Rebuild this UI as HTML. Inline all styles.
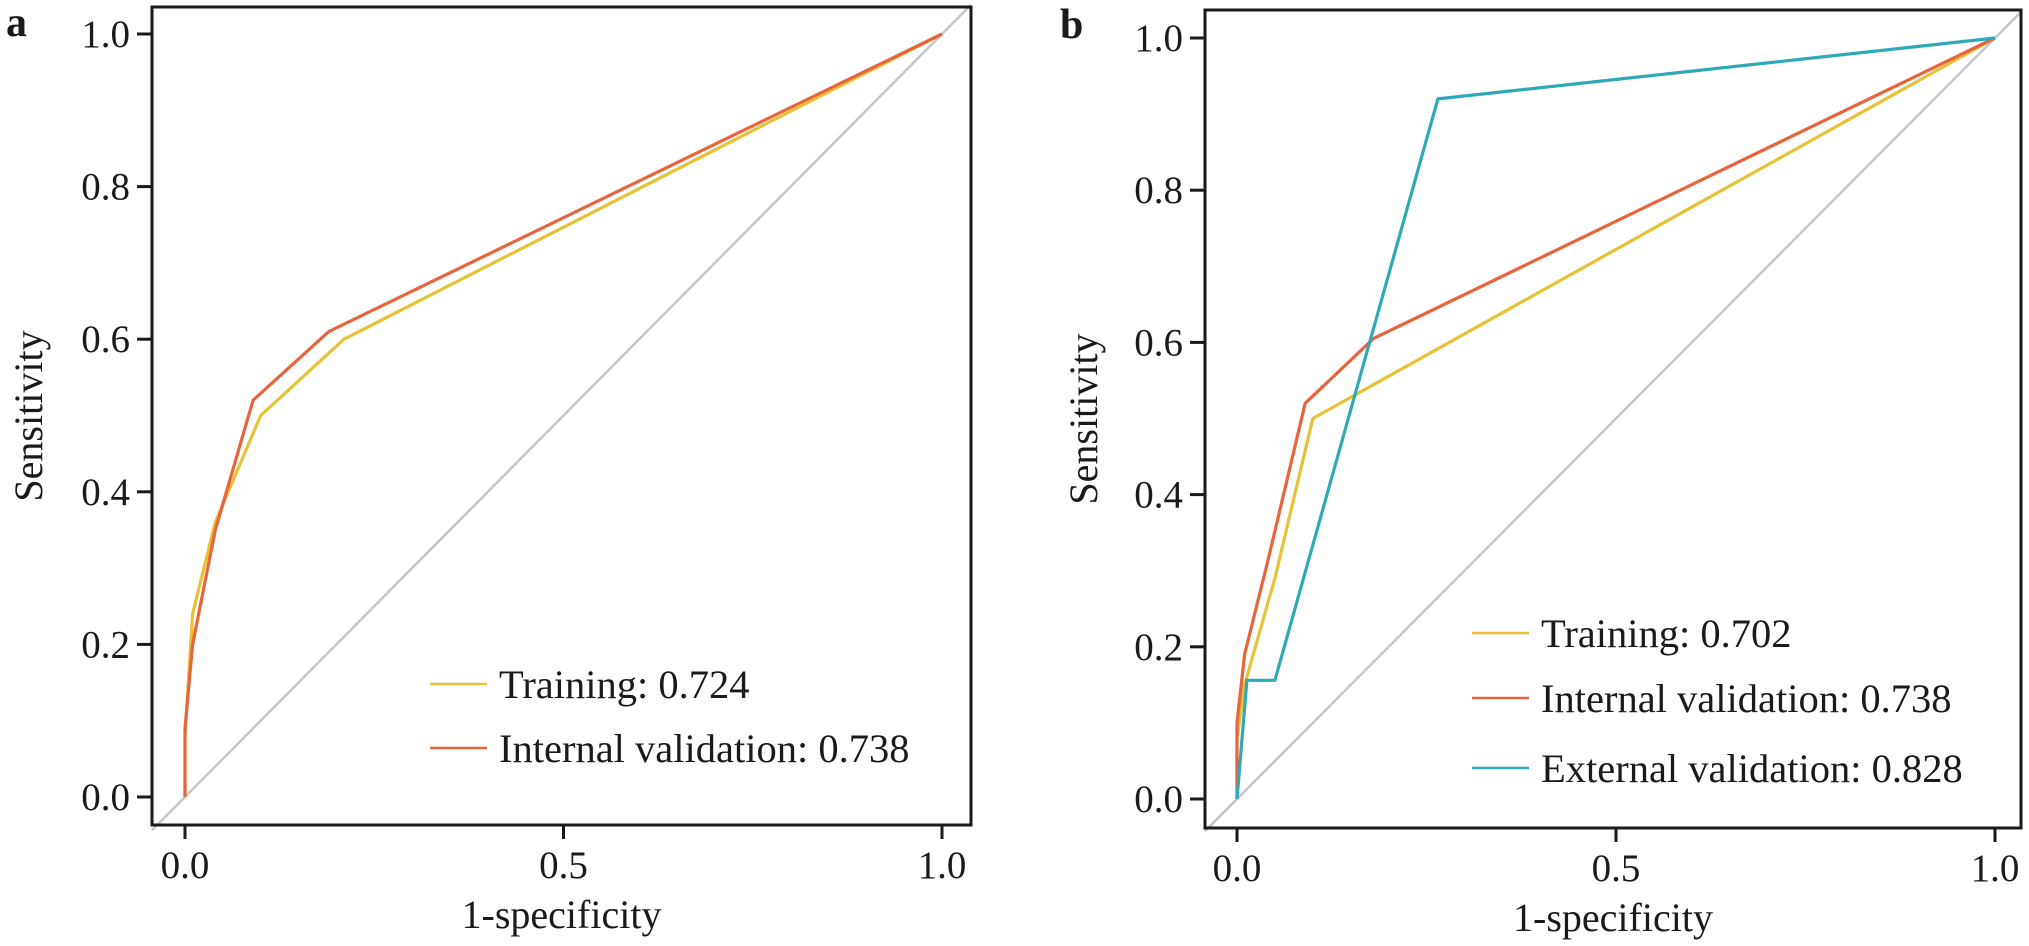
<!DOCTYPE html>
<html><head><meta charset="utf-8"><style>
html,body{margin:0;padding:0;background:#fff;}
svg{display:block;font-family:"Liberation Serif",serif;}
</style></head><body>
<svg id="chart" width="2029" height="946" viewBox="0 0 2029 946" xmlns="http://www.w3.org/2000/svg"></svg>
<script>
const xTicks = [0.0, 0.5, 1.0];
const xTickLabels = ["0.0", "0.5", "1.0"];
const yTicks = [0.0, 0.2, 0.4, 0.6, 0.8, 1.0];
const yTickLabels = ["0.0", "0.2", "0.4", "0.6", "0.8", "1.0"];

const aTrainFpr = [0, 0, 0.01, 0.04, 0.10, 0.21, 1];
const aTrainTpr = [0, 0.08, 0.24, 0.36, 0.50, 0.60, 1];
const aIntFpr = [0, 0, 0.01, 0.04, 0.09, 0.19, 1];
const aIntTpr = [0, 0.09, 0.20, 0.35, 0.52, 0.61, 1];

const bTrainFpr = [0, 0, 0.01, 0.05, 0.10, 1];
const bTrainTpr = [0, 0.08, 0.15, 0.29, 0.50, 1];
const bIntFpr = [0, 0, 0.01, 0.04, 0.09, 0.18, 1];
const bIntTpr = [0, 0.10, 0.19, 0.31, 0.52, 0.605, 1];
const bExtFpr = [0, 0.013, 0.05, 0.265, 1];
const bExtTpr = [0, 0.156, 0.156, 0.92, 1];

const aLegend = ["Training: 0.724", "Internal validation: 0.738"];
const bLegend = ["Training: 0.702", "Internal validation: 0.738", "External validation: 0.828"];

const C_TRAIN = "#e6c234", C_INT = "#e8643c", C_EXT = "#2fa9b8";
const NS = "http://www.w3.org/2000/svg";
const svg = document.getElementById("chart");
function mk(tag, attrs, parent){const e=document.createElementNS(NS,tag);for(const k in attrs)e.setAttribute(k,attrs[k]);(parent||svg).appendChild(e);return e;}

const panels = [
 {id:"a", box:[152,7,971,825], x0:185, x1:942, y0:797, y1:34, letterX:6, letterY:36, ytitleX:42,
  series:[[aTrainFpr,aTrainTpr,C_TRAIN],[aIntFpr,aIntTpr,C_INT]],
  legend:aLegend, legendColors:[C_TRAIN,C_INT], legX:430, legY:[684,748]},
 {id:"b", box:[1205,10,2021,828], x0:1237, x1:1995, y0:799, y1:38, letterX:1060, letterY:38, ytitleX:1097,
  series:[[bTrainFpr,bTrainTpr,C_TRAIN],[bIntFpr,bIntTpr,C_INT],[bExtFpr,bExtTpr,C_EXT]],
  legend:bLegend, legendColors:[C_TRAIN,C_INT,C_EXT], legX:1472, legY:[633,698,768]}
];

panels.forEach(p=>{
  const g = mk("g",{});
  
  
  const sx = v => p.x0 + v*(p.x1-p.x0);
  const sy = v => p.y0 - v*(p.y0-p.y1);
  const [L,T,R,B] = p.box;
  const dxa=(L-p.x0)/(p.x1-p.x0), dxb=(R-p.x0)/(p.x1-p.x0);
  const diag = mk("line",{x1:sx(dxa),y1:sy(dxa),x2:sx(dxb),y2:sy(dxb),stroke:"#c6c6c6","stroke-width":2.5},g);
  
  
  p.series.forEach((s,i)=>{
    const pts = s[0].map((x,j)=>sx(x).toFixed(1)+","+sy(s[1][j]).toFixed(1)).join(" ");
    const pl = mk("polyline",{points:pts,fill:"none",stroke:s[2],"stroke-width":3.2,"stroke-linejoin":"round"},g);
    
    
  });
  const fr = mk("rect",{x:L,y:T,width:R-L,height:B-T,fill:"none",stroke:"#1a1a1a","stroke-width":3},g);
  
  
  yTicks.forEach((v,i)=>{
    mk("line",{x1:L-15,x2:L,y1:sy(v),y2:sy(v),stroke:"#1a1a1a","stroke-width":3},g);
    const t = mk("text",{x:L-22,y:sy(v)+13,"text-anchor":"end","font-size":39,fill:"#1a1a1a"},g);
    t.textContent = yTickLabels[i];
    
    
  });
  xTicks.forEach((v,i)=>{
    mk("line",{x1:sx(v),x2:sx(v),y1:B,y2:B+14,stroke:"#1a1a1a","stroke-width":3},g);
    const t = mk("text",{x:sx(v),y:B+53,"text-anchor":"middle","font-size":39,fill:"#1a1a1a"},g);
    t.textContent = xTickLabels[i];
    
    
  });
  const xt = mk("text",{x:(L+R)/2,y:B+103,"text-anchor":"middle","font-size":40,fill:"#1a1a1a"},g);
  xt.textContent = "1-specificity";
  
  
  const cy = (T+B)/2;
  const yt = mk("text",{x:p.ytitleX,y:cy,"text-anchor":"middle","font-size":40,fill:"#1a1a1a",transform:"rotate(-90 "+p.ytitleX+" "+cy+")"},g);
  yt.textContent = "Sensitivity";
  
  
  const lt = mk("text",{x:p.letterX,y:p.letterY,"font-size":42,"font-weight":"bold",fill:"#1a1a1a"},g);
  lt.textContent = p.id;
  
  
  p.legend.forEach((lab,i)=>{
    const y = p.legY[i];
    const ln = mk("line",{x1:p.legX,x2:p.legX+57,y1:y,y2:y,stroke:p.legendColors[i],"stroke-width":2.5},g);
    
    
    const t = mk("text",{x:p.legX+69,y:y+14,"font-size":40.5,fill:"#1a1a1a"},g);
    t.textContent = lab;
    
    
  });
});
</script>
</body></html>
